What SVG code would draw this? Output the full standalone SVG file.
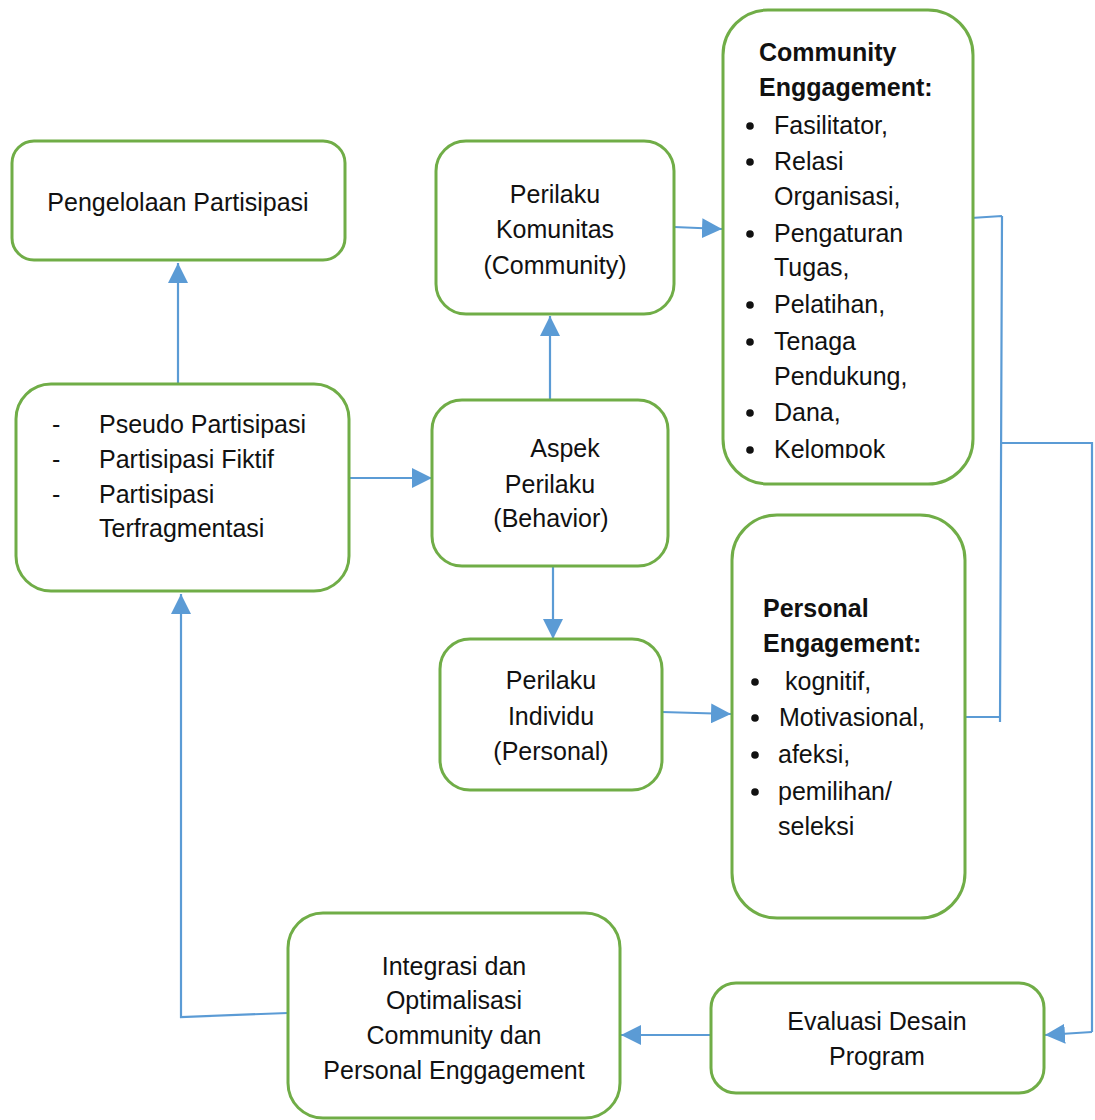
<svg xmlns="http://www.w3.org/2000/svg" width="1095" height="1120" viewBox="0 0 1095 1120">
<style>
.box{fill:#fff;stroke:#70AD47;stroke-width:3}
.t{font-family:"Liberation Sans",Arial,sans-serif;font-size:25px;fill:#111}
.c{text-anchor:middle}
.b{font-weight:bold}
.ln{fill:none;stroke:#5B9BD5;stroke-width:2.2}
.dot{fill:#111}
</style>
<defs>
<marker id="ah" markerUnits="userSpaceOnUse" markerWidth="22" markerHeight="20" refX="20" refY="10" orient="auto">
<path d="M0,0 L20,10 L0,20 Z" fill="#5B9BD5"/>
</marker>
<clipPath id="clipCE"><rect x="723" y="10" width="250" height="448"/></clipPath>
</defs>
<rect width="1095" height="1120" fill="#fff"/>

<g id="connectors">
<path class="ln" d="M178,384 V263" marker-end="url(#ah)"/>
<path class="ln" d="M349,478 H432" marker-end="url(#ah)"/>
<path class="ln" d="M550,400 V316" marker-end="url(#ah)"/>
<path class="ln" d="M553,566 V639" marker-end="url(#ah)"/>
<path class="ln" d="M674,227 L722,229" marker-end="url(#ah)"/>
<path class="ln" d="M662,712 L731,714" marker-end="url(#ah)"/>
<path class="ln" d="M971,218 L1002,216 M1002,216 L1000,722 M965,717 H1000 M1000,443 H1092 V1032"/>
<path class="ln" d="M1092,1032 L1045,1035" marker-end="url(#ah)"/>
<path class="ln" d="M711,1035 H621" marker-end="url(#ah)"/>
<path class="ln" d="M288,1013 L181,1017 V594" marker-end="url(#ah)"/>
</g>

<g id="pengelolaan">
<rect class="box" x="12" y="141" width="333" height="119" rx="22"/>
<text class="t c" x="178" y="211">Pengelolaan Partisipasi</text>
</g>

<g id="partisipasi-list">
<rect class="box" x="16" y="384" width="333" height="207" rx="35"/>
<text class="t" x="52" y="433">-</text>
<text class="t" x="52" y="468">-</text>
<text class="t" x="52" y="503">-</text>
<text class="t" x="99" y="433">Pseudo Partisipasi</text>
<text class="t" x="99" y="468">Partisipasi Fiktif</text>
<text class="t" x="99" y="503">Partisipasi</text>
<text class="t" x="99" y="537">Terfragmentasi</text>
</g>

<g id="perilaku-komunitas">
<rect class="box" x="436" y="141" width="238" height="173" rx="30"/>
<text class="t c" x="555" y="203">Perilaku</text>
<text class="t c" x="555" y="238">Komunitas</text>
<text class="t c" x="555" y="274">(Community)</text>
</g>

<g id="aspek-perilaku">
<rect class="box" x="432" y="400" width="236" height="166" rx="30"/>
<text class="t c" x="565" y="457">Aspek</text>
<text class="t c" x="550" y="493">Perilaku</text>
<text class="t c" x="551" y="527">(Behavior)</text>
</g>

<g id="perilaku-individu">
<rect class="box" x="440" y="639" width="222" height="151" rx="30"/>
<text class="t c" x="551" y="689">Perilaku</text>
<text class="t c" x="551" y="725">Individu</text>
<text class="t c" x="551" y="760">(Personal)</text>
</g>

<g id="community-engagement">
<rect class="box" x="723" y="10" width="250" height="474" rx="45"/>
<g clip-path="url(#clipCE)">
<text class="t b" x="759" y="61">Community</text>
<text class="t b" x="759" y="96">Enggagement:</text>
<circle class="dot" cx="750" cy="126" r="3.8"/>
<circle class="dot" cx="750" cy="162" r="3.8"/>
<circle class="dot" cx="750" cy="234" r="3.8"/>
<circle class="dot" cx="750" cy="305" r="3.8"/>
<circle class="dot" cx="750" cy="342" r="3.8"/>
<circle class="dot" cx="750" cy="413" r="3.8"/>
<circle class="dot" cx="750" cy="450" r="3.8"/>
<text class="t" x="774" y="134">Fasilitator,</text>
<text class="t" x="774" y="170">Relasi</text>
<text class="t" x="774" y="205">Organisasi,</text>
<text class="t" x="774" y="242">Pengaturan</text>
<text class="t" x="774" y="276">Tugas,</text>
<text class="t" x="774" y="313">Pelatihan,</text>
<text class="t" x="774" y="350">Tenaga</text>
<text class="t" x="774" y="385">Pendukung,</text>
<text class="t" x="774" y="421">Dana,</text>
<text class="t" x="774" y="458">Kelompok</text>
</g>
</g>

<g id="personal-engagement">
<rect class="box" x="732" y="515" width="233" height="403" rx="45"/>
<text class="t b" x="763" y="617">Personal</text>
<text class="t b" x="763" y="652">Engagement:</text>
<circle class="dot" cx="755" cy="682" r="3.8"/>
<circle class="dot" cx="755" cy="718" r="3.8"/>
<circle class="dot" cx="755" cy="755" r="3.8"/>
<circle class="dot" cx="755" cy="792" r="3.8"/>
<text class="t" x="785" y="690">kognitif,</text>
<text class="t" x="779" y="726">Motivasional,</text>
<text class="t" x="778" y="763">afeksi,</text>
<text class="t" x="778" y="800">pemilihan/</text>
<text class="t" x="778" y="835">seleksi</text>
</g>

<g id="integrasi">
<rect class="box" x="288" y="913" width="332" height="205" rx="35"/>
<text class="t c" x="454" y="975">Integrasi dan</text>
<text class="t c" x="454" y="1009">Optimalisasi</text>
<text class="t c" x="454" y="1044">Community dan</text>
<text class="t c" x="454" y="1079">Personal Enggagement</text>
</g>

<g id="evaluasi">
<rect class="box" x="711" y="983" width="333" height="110" rx="25"/>
<text class="t c" x="877" y="1030">Evaluasi Desain</text>
<text class="t c" x="877" y="1065">Program</text>
</g>
</svg>
